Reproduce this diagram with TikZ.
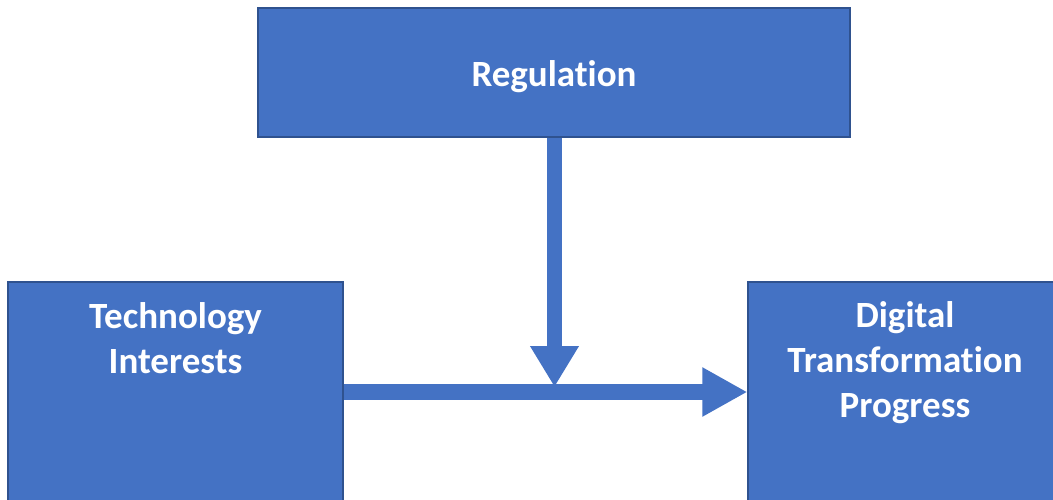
\documentclass[tikz,border=0pt]{standalone}
\usepackage{fontspec}
\setmainfont[Ligatures=NoCommon]{Carlito}
\usetikzlibrary{arrows.meta}
\definecolor{boxblue}{HTML}{4472C4}
\definecolor{boxedge}{HTML}{2F528F}
\begin{document}
\begin{tikzpicture}[x=1pt,y=-1pt,
  box/.style={draw=boxedge,fill=boxblue,line width=1.2pt,rectangle,inner sep=0pt},
  lbl/.style={text=white,font=\fontsize{37}{45}\selectfont\bfseries,align=center,inner sep=0pt},
  bigarrow/.style={draw=boxblue,line width=15pt,-{Triangle[width=46pt,length=41pt]}}]
\useasboundingbox (0,0) rectangle (1053,499);
\node[box,minimum width=592pt,minimum height=129pt] (reg) at (554,72.5) {};
\node[box,minimum width=335pt,minimum height=225pt] (tech) at (175.5,394.5) {};
\node[box,minimum width=312pt,minimum height=225pt] (dig) at (904,394.5) {};
\node[lbl,anchor=base] (regt) at (554,86) {Regulation};
\node[lbl,anchor=north] (techt) at (175.5,302.5) {Technology\\Interests};
\node[lbl,anchor=north] (digt) at (905,301.5) {Digital\\Transformation\\Progress};
\coordinate (vtip) at (554.5,387);
\coordinate (hmid) at (550,392);
\draw[bigarrow] (reg.south -| vtip) -- (vtip);
\draw[bigarrow,line width=16pt,-{Triangle[width=46pt,length=45pt]}] (tech.east |- hmid) -- (dig.west |- hmid);
\end{tikzpicture}
\end{document}
